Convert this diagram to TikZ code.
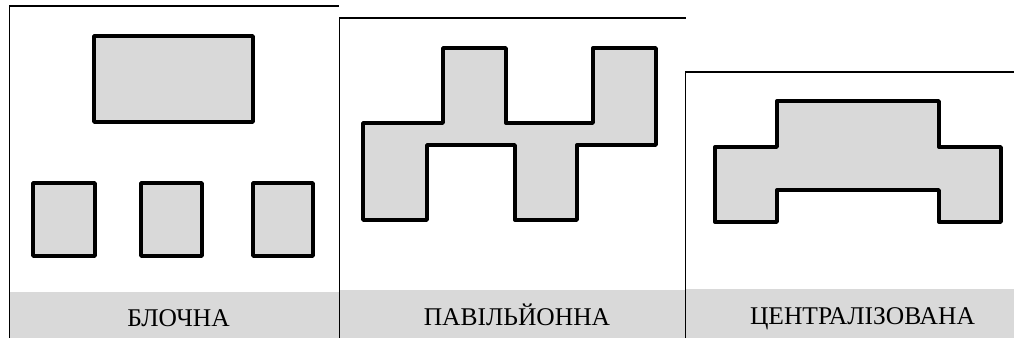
\documentclass[tikz,border=0pt]{standalone}
\usepackage{fontspec}
\setmainfont{Liberation Serif}
\definecolor{bandgray}{RGB}{217,217,217}
\definecolor{shapegray}{RGB}{217,217,217}
\tikzset{
  frame/.style={draw=black, line width=1.5pt},
  band/.style={fill=bandgray, draw=none},
  plan/.style={draw=black, fill=shapegray, line width=3.4pt, line join=round},
  caption/.style={anchor=base, font=\fontsize{25.5}{30}\selectfont, inner sep=0pt}
}
\begin{document}
\begin{tikzpicture}[x=1pt,y=-1pt]
\useasboundingbox (0,0) rectangle (1014,338);
\fill[white] (0,0) rectangle (1014,338);
% bands
\path[band] (10,292) rectangle (339,338);
\path[band] (339,290) rectangle (685,338);
\path[band] (685,289) rectangle (1014,338);
% frames
\draw[frame] (9.5,338) -- (9.5,6) -- (339,6);
\draw[frame] (339.5,338) -- (339.5,18) -- (686,18);
\draw[frame] (685.5,338) -- (685.5,72) -- (1014,72);
% panel 1: block
\draw[plan] (94,36) rectangle (253,122);
\draw[plan] (33,183) rectangle (95,256);
\draw[plan] (141,183) rectangle (202,256);
\draw[plan] (253,183) rectangle (313,256);
% panel 2: pavilion
\draw[plan] (363,220) -- (363,123) -- (443,123) -- (443,48) -- (506,48) -- (506,123)
  -- (593,123) -- (593,48) -- (656,48) -- (656,145) -- (577,145) -- (577,220)
  -- (515,220) -- (515,145) -- (427,145) -- (427,220) -- cycle;
% panel 3: centralized
\draw[plan] (715,222) -- (715,147) -- (777,147) -- (777,101) -- (939,101) -- (939,147)
  -- (1001,147) -- (1001,222) -- (939,222) -- (939,190) -- (777,190) -- (777,222) -- cycle;
% captions
\node[caption] (t1) at (178.5,326) {БЛОЧНА};
\node[caption] (t2) at (517,325) {ПАВІЛЬЙОННА};
\node[caption] (t3) at (862.5,324) {ЦЕНТРАЛІЗОВАНА};
\end{tikzpicture}
\end{document}
